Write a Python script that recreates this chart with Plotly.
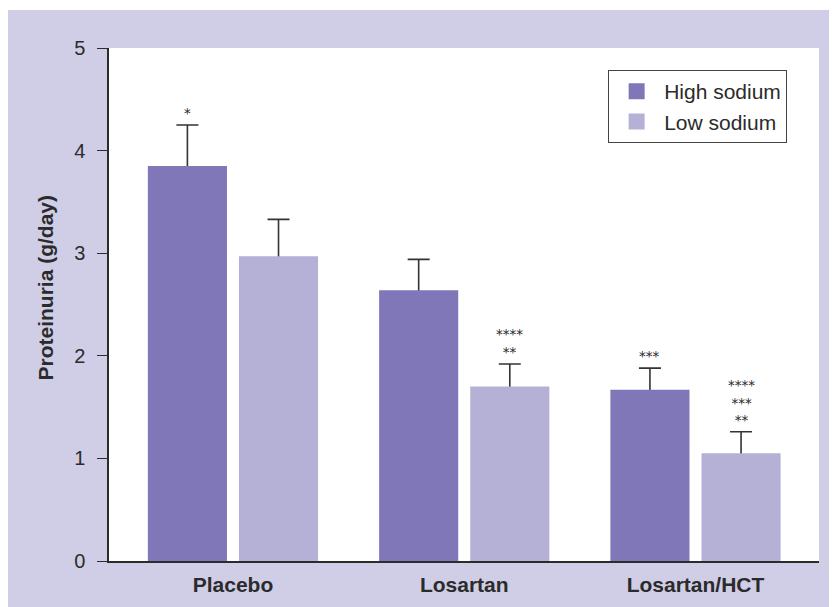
import plotly.graph_objects as go

groups = ["Placebo", "Losartan", "Losartan/HCT"]
high_sodium = [3.85, 2.64, 1.67]
high_err = [0.40, 0.30, 0.21]
low_sodium = [2.97, 1.70, 1.05]
low_err = [0.36, 0.22, 0.21]
# significance marks, listed from the top line downwards
high_marks = [["*"], [], ["***"]]
low_marks = [[], ["****", "**"], ["****", "***", "**"]]
y_ticks = [0, 1, 2, 3, 4, 5]

HIGH_C = "#7F77B7"
LOW_C = "#B5B0D6"
BG = "#D0CEE6"
INK = "#2b2b2b"

xpos = list(range(len(groups)))
BAR_W = 0.342
HALF = 0.197
OFF_H = -HALF - BAR_W / 2
OFF_L = HALF - BAR_W / 2

fig = go.Figure()
err_style = dict(type="data", color="#333333", thickness=1.6, width=11)

# error bars on transparent bars drawn first; coloured bars cover the lower halves
fig.add_trace(go.Bar(x=xpos, y=high_sodium, width=BAR_W, offset=OFF_H,
                     marker=dict(color="rgba(0,0,0,0)", line=dict(width=0)),
                     error_y=dict(array=high_err, **err_style), showlegend=False, hoverinfo="skip"))
fig.add_trace(go.Bar(x=xpos, y=low_sodium, width=BAR_W, offset=OFF_L,
                     marker=dict(color="rgba(0,0,0,0)", line=dict(width=0)),
                     error_y=dict(array=low_err, **err_style), showlegend=False, hoverinfo="skip"))
fig.add_trace(go.Bar(x=xpos, y=high_sodium, width=BAR_W, offset=OFF_H, name="High sodium",
                     marker=dict(color=HIGH_C, line=dict(width=0)), showlegend=False, legendgroup="h"))
fig.add_trace(go.Bar(x=xpos, y=low_sodium, width=BAR_W, offset=OFF_L, name="Low sodium",
                     marker=dict(color=LOW_C, line=dict(width=0)), showlegend=False, legendgroup="l"))

# legend entries with larger swatches
fig.add_trace(go.Scatter(x=[None], y=[None], mode="markers", name="High sodium", legendgroup="h",
                         marker=dict(symbol="square", size=20, color=HIGH_C)))
fig.add_trace(go.Scatter(x=[None], y=[None], mode="markers", name="Low sodium", legendgroup="l",
                         marker=dict(symbol="square", size=20, color=LOW_C)))

for vals, errs, marks, dx in ((high_sodium, high_err, high_marks, -HALF),
                              (low_sodium, low_err, low_marks, HALF)):
    for i, lines in enumerate(marks):
        if lines:
            fig.add_annotation(x=i + dx, y=vals[i] + errs[i], text="<br>".join(lines),
                               showarrow=False, yanchor="bottom", yshift=2,
                               font=dict(size=13.5, color=INK, family="DejaVu Sans"))

# y-axis title
fig.add_annotation(xref="paper", yref="paper", x=(45 - 109) / 710, y=(561 - 287.5) / 513,
                   text="<b>Proteinuria (g/day)</b>", textangle=-90, showarrow=False,
                   xanchor="center", yanchor="middle", font=dict(size=21, color=INK))

# thin white strip at the very top
fig.add_shape(type="rect", xref="paper", yref="paper", x0=-0.3, x1=1.3,
              y0=(553 - 2) / 513, y1=1.3, fillcolor="white", line=dict(width=0), layer="below")

fig.update_layout(
    width=829, height=599,
    margin=dict(l=101, r=18, t=40, b=46),
    paper_bgcolor=BG, plot_bgcolor="white",
    barmode="overlay",
    font=dict(family="Liberation Sans, Arial, sans-serif", color=INK),
    legend=dict(x=0.703, y=0.957, xanchor="left", yanchor="top",
                bgcolor="white", bordercolor="#444444", borderwidth=1,
                font=dict(size=21, color=INK), itemsizing="trace", itemwidth=45,
                tracegroupgap=0),
    xaxis=dict(range=[-0.536, 2.534], tickvals=xpos, ticktext=["<b>%s</b>" % g for g in groups],
               tickfont=dict(size=21, color=INK), showline=True, linecolor=INK, linewidth=1.5,
               ticks="", ticklabelstandoff=4, showgrid=False, zeroline=False, fixedrange=True),
    yaxis=dict(range=[0, 5], tickvals=y_ticks, tickfont=dict(size=20, color=INK),
               showline=True, linecolor=INK, linewidth=1.5, ticks="outside", ticklen=10,
               tickcolor=INK, tickwidth=1.3, ticklabelstandoff=8, showgrid=False, zeroline=False),
)

fig.write_html("out.html")
